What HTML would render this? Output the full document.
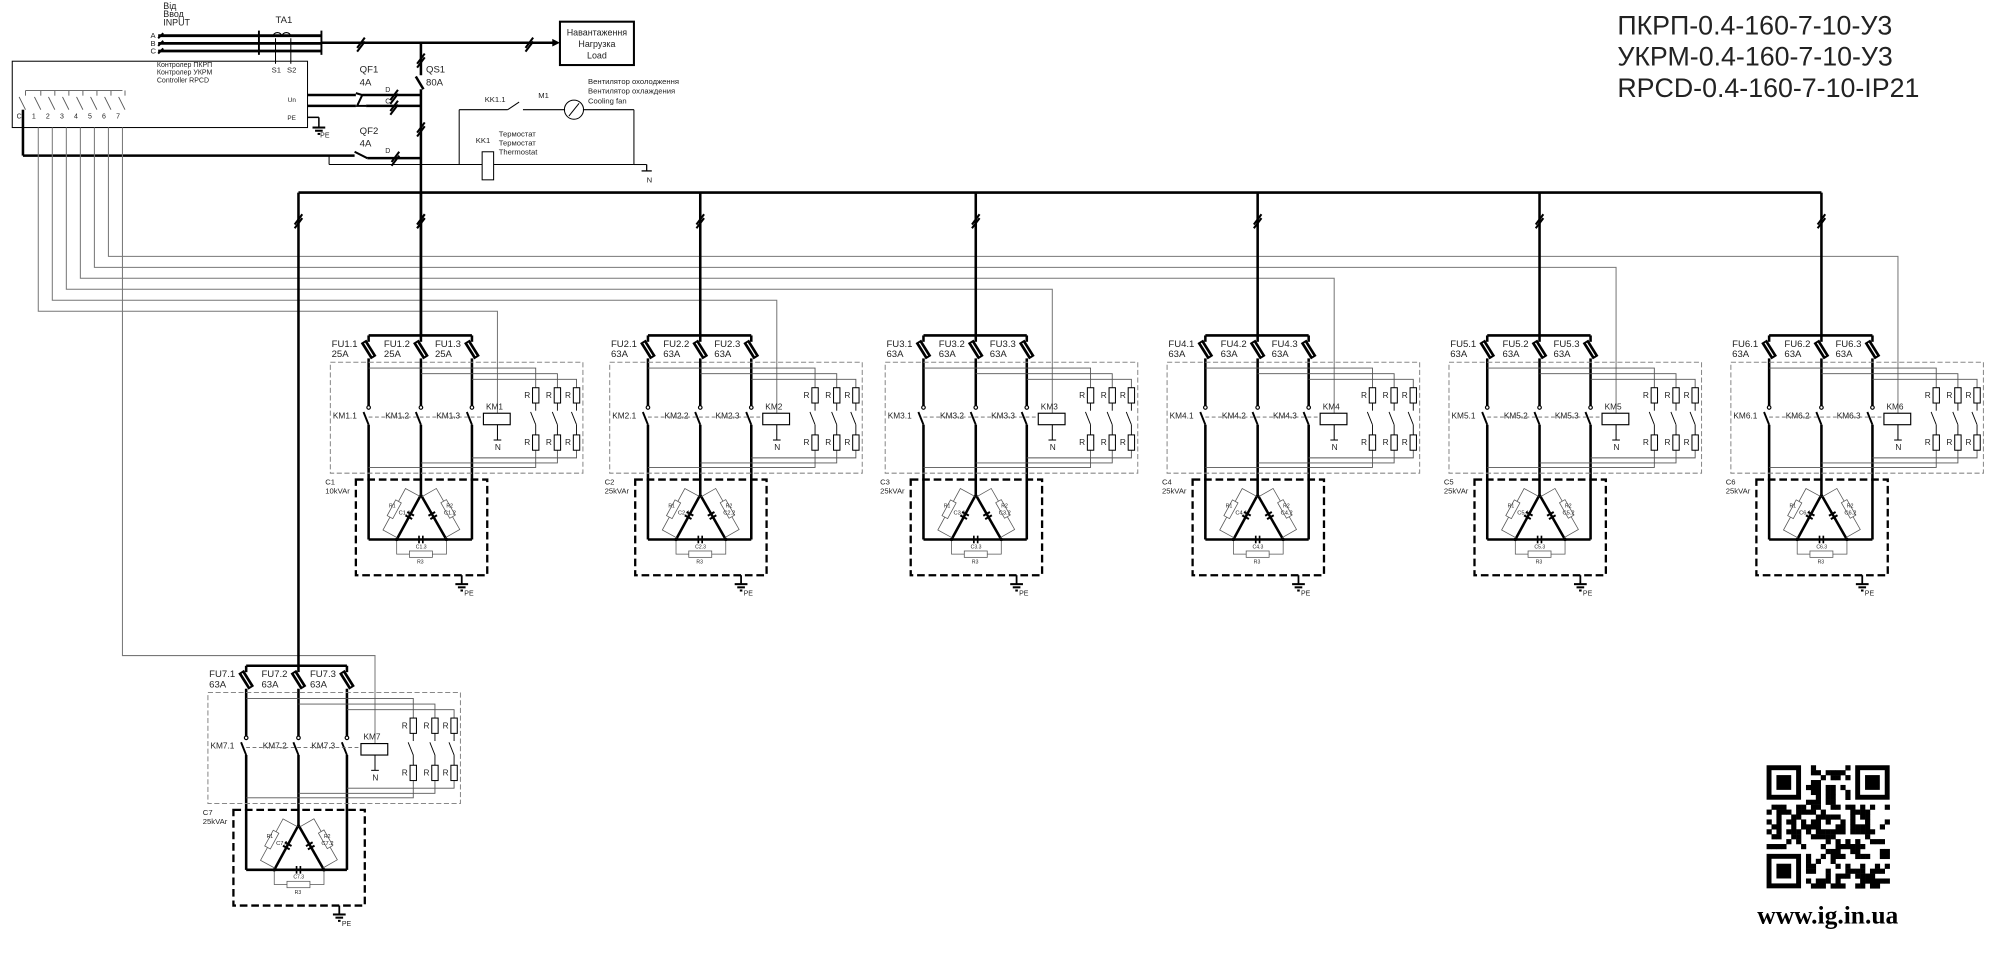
<!DOCTYPE html>
<html><head><meta charset="utf-8"><style>
html,body{margin:0;padding:0;background:#fff;}
svg{display:block;}
text{font-family:"Liberation Sans","DejaVu Sans",sans-serif;fill:#222;}
</style></head><body>
<svg id="s" xmlns="http://www.w3.org/2000/svg" width="2000" height="966" viewBox="0 0 1568 757.4" preserveAspectRatio="none"></svg>
<script>
var o=[];
function L(x1,y1,x2,y2,w,c,d){o.push('<line x1="'+x1+'" y1="'+y1+'" x2="'+x2+'" y2="'+y2+'" stroke="'+(c||'#000')+'" stroke-width="'+(w||1)+'"'+(d?' stroke-dasharray="'+d+'"':'')+'/>');}
function P(pts,w,c){o.push('<polyline points="'+pts+'" fill="none" stroke="'+(c||'#000')+'" stroke-width="'+(w||1)+'"/>');}
function R(x,y,w,h,sw,c,d,f){o.push('<rect x="'+x+'" y="'+y+'" width="'+w+'" height="'+h+'" fill="'+(f||'none')+'" stroke="'+(c||'#000')+'" stroke-width="'+(sw||1)+'"'+(d?' stroke-dasharray="'+d+'"':'')+'/>');}
function T(x,y,s,t,sz,extra){o.push('<text x="'+x+'" y="'+y+'" font-size="'+(sz||7)+'" '+(extra||'')+'>'+t+'</text>');}
function slash(x,y){L(x-3,y+4,x+3,y-4,1.6);L(x-3,y+7,x+3,y-1,1.6);}
function ground(x,y){L(x-5,y,x+5,y,1.6);L(x-3,y+2.5,x+3,y+2.5,1.6);L(x-1,y+5,x+1,y+5,1.6);}
var TK=2;
T(128,7,0,'Від',7);T(128,13.5,0,'Ввод',7);T(128,20,0,'INPUT',7);
[['A',28],['B',34],['C',40]].forEach(function(a){T(118,a[1]+2,0,a[0],6);L(124,a[1],252,a[1],2.2);L(124,a[1]+2,128,a[1]-2,1.5);});
L(203,24,203,43,1.5);L(252,24,252,43,1.5);
T(216,18,0,'TA1',7.5);
o.push('<path d="M214,29 a3.5,3.5 0 0 1 7,0 M221,29 a3.5,3.5 0 0 1 7,0" fill="none" stroke="#000" stroke-width="0.9"/>');
L(216,30,216,50,0.8);L(228,30,228,50,0.8);T(213,57,0,'S1',6);T(225,57,0,'S2',6);
L(252,33.5,437,33.5,TK);slash(283,33.5);slash(415,33.5);
o.push('<polygon points="439,33.5 433,30.5 433,36.5" fill="#000"/>');
R(439,17,58,34,1.6);
T(468,28,0,'Навантаження',7,'text-anchor="middle"');T(468,37,0,'Нагрузка',7,'text-anchor="middle"');T(468,46,0,'Load',7,'text-anchor="middle"');
L(330,33.5,330,59,TK);L(326,60,332,70,TK);L(330,70,330,263,TK);slash(330,46);slash(330,100);slash(330,172);
T(334,57,0,'QS1',7.5);T(334,67,0,'80A',7.5);
R(9.6,48,231.5,52,0.8);
T(123,52.5,0,'Контролер ПКРП',5.5);T(123,58.5,0,'Контролер УКРМ',5.5);T(123,64.5,0,'Controller RPCD',5.5);
var tx=[18,30,41,52,63,74,85,96],tl=['C','1','2','3','4','5','6','7'];
L(20,71,96,71,0.7,'#555');
tx.forEach(function(x,i){L(x+2,71,x+2,75,0.7,'#555');L(x-3,76,x+2,86,0.7,'#555');T(x-5,93,0,tl[i],5.5);});
T(232,80,0,'Un',5,'text-anchor="end"');T(232,94,0,'PE',5,'text-anchor="end"');
L(241,74.5,279,74.5,TK);L(241,83,279,83,TK);
P('279,73 284,74.5 280,83 287,83',1.6);P('284,74.5 330,74.5',TK);L(287,83,330,83,TK);slash(309,74.5);slash(309,83);
T(302,72,0,'D',5.5);T(302,81,0,'C',5.5);
T(282,57,0,'QF1',7.5);T(282,67,0,'4A',7.5);
L(241,92,250,92,1.2);L(250,92,250,100,1.2);ground(250,100);T(251,108,0,'PE',5.5);
L(18,86,18,122,TK);L(18,122,278,122,TK);L(278,119,288,124,1.6);L(288,124,330,124,TK);slash(310,123);
T(302,120,0,'D',5.5);T(282,105,0,'QF2',7.5);T(282,115,0,'4A',7.5);
L(258,122,258,129,0.8);L(258,129,497,129,0.8);L(497,129,507,129,0.8);
L(497,86,497,129,0.8);L(360,86,360,129,0.8);L(360,86,398,86,0.8);L(398,86,407,80,0.8);L(410,86,443,86,0.8);
o.push('<circle cx="450" cy="86" r="7.5" fill="none" stroke="#000" stroke-width="0.8"/>');L(446,91,454,81,0.8);L(457,86,497,86,0.8);
T(422,77,0,'M1',6);T(380,80,0,'KK1.1',6);
T(461,66,0,'Вентилятор охолодження',6);T(461,73.5,0,'Вентилятор охлаждения',6);T(461,81,0,'Cooling fan',6);
R(378,119,9,22,0.8,'#000','','#fff');T(373,112,0,'KK1',6);
T(391,107,0,'Термостат',6);T(391,114,0,'Термостат',6);T(391,121,0,'Thermostat',6);
L(507,129,507,134,1);L(503,134,511,134,1);T(507,143,0,'N',6);
T(1268,27,0,'ПКРП-0.4-160-7-10-У3',21);T(1268,51.5,0,'УКРМ-0.4-160-7-10-У3',21);T(1268,76,0,'RPCD-0.4-160-7-10-IP21',21);
L(234,151,1428,151,TK);
var xs=[330,549,765,986,1207,1428];
for(var i=1;i<=6;i++){var y=244-(i-1)*8.6,cx=xs[i-1]+60;P(tx[i]+',100 '+tx[i]+','+y+' '+cx+','+y+' '+cx+',324',0.8,'#777');}
P('96,100 96,514 294,514 294,583',0.8,'#777');
function sec(x0,dy,n,amp,kv,fo){
 var f=[x0-41,x0,x0+fo],Y=function(v){return v+dy;};
 L(x0,151,x0,Y(263),TK);slash(x0,172);
 L(f[0],Y(263),f[2],Y(263),TK);
 f.forEach(function(fx,k){
  L(fx,Y(263),fx,Y(268),TK);
  o.push('<g transform="translate('+fx+','+Y(274)+') rotate(-32)"><rect x="-2.6" y="-7.5" width="5.2" height="15" fill="#000"/><line x1="0" y1="-6" x2="0" y2="6" stroke="#fff" stroke-width="1"/></g>');
  L(fx,Y(281),fx,Y(319),TK);
  o.push('<circle cx="'+fx+'" cy="'+Y(319.5)+'" r="1.4" fill="#fff" stroke="#000" stroke-width="0.9"/>');
  L(fx-4,Y(323),fx,Y(333),1.5);
  L(fx,Y(333),fx,Y(k==1?388:423),TK);
  T(fx-29,Y(272),0,'FU'+n+'.'+(k+1),7.5);T(fx-29,Y(280),0,amp,7.5);
  T(fx-28,Y(328),0,'KM'+n+'.'+(k+1),6.5);
 });
 R(x0-71,Y(284),198,87,0.8,'#888','4 2');
 L(f[0],Y(327),x0+49,Y(327),0.7,'#666','3 2');
 var col=[x0+90,x0+107,x0+122],ty=[288.6,293,297.4],by=[366.5,363,359];
 for(var k=0;k<3;k++){
  P(f[k]+','+Y(ty[k])+' '+col[k]+','+Y(ty[k])+' '+col[k]+','+Y(304),0.7,'#555');
  P(col[k]+','+Y(353)+' '+col[k]+','+Y(by[k])+' '+f[k]+','+Y(by[k]),0.7,'#555');
  R(col[k]-2.5,Y(304),5,12,0.8);R(col[k]-2.5,Y(341),5,12,0.8);
  L(col[k],Y(316),col[k],Y(322),0.7);L(col[k]-4,Y(323),col[k],Y(333),0.7);L(col[k],Y(333),col[k],Y(341),0.7);
  T(col[k]-9,Y(312),0,'R',6.5);T(col[k]-9,Y(349),0,'R',6.5);
 }
 R(x0+49,Y(324),21,9,0.9,'#000','','#fff');T(x0+51,Y(321),0,'KM'+n,6.5);
 L(x0+60,Y(333),x0+60,Y(345),0.8);L(x0+57,Y(345),x0+63,Y(345),0.8);T(x0+58,Y(353),0,'N',6.5);
 R(x0-51,Y(376),103,75,1.8,'#000','6 3');
 T(x0-75,Y(380),0,'C'+n,6);T(x0-75,Y(387),0,kv,6);
 L(f[0],Y(423),f[2],Y(423),TK);
 var ax=x0,ay=Y(388),bl=[x0-19,Y(423)],br=[x0+20,Y(423)];
 L(ax,ay,bl[0],bl[1],TK);L(ax,ay,br[0],br[1],TK);
 [[bl,-1,'1'],[br,1,'2']].forEach(function(e){
  var mx=(ax+e[0][0])/2,my=(ay+e[0][1])/2,ang=Math.atan2(e[0][1]-ay,e[0][0]-ax)*180/Math.PI;
  var s=e[1];
  o.push('<g transform="translate('+mx+','+my+') rotate('+ang+')">'+
   '<line x1="-3" y1="-3" x2="-3" y2="3" stroke="#000" stroke-width="1.6"/><line x1="0" y1="-3" x2="0" y2="3" stroke="#000" stroke-width="1.6"/>'+
   '<polyline points="-18.5,0 -18.5,'+(13*-s)+' 18.5,'+(13*-s)+' 18.5,0" fill="none" stroke="#555" stroke-width="0.6"/>'+
   '<rect x="-7" y="'+(13*-s-2.5)+'" width="14" height="5" fill="#fff" stroke="#555" stroke-width="0.6"/></g>');
  T(mx+s*8,my-2,0,'C'+n+'.'+e[2],4.5);
 });
 T(ax-25,ay+10,0,'R1',4);T(ax+20,ay+10,0,'R2',4);
 L(x0-1.5,Y(420),x0-1.5,Y(426),1.3);L(x0+1.5,Y(420),x0+1.5,Y(426),1.3);
 P(bl[0]+','+Y(423)+' '+bl[0]+','+Y(434.5)+' '+(x0-9)+','+Y(434.5),0.6,'#555');
 P(br[0]+','+Y(423)+' '+br[0]+','+Y(434.5)+' '+(x0+9)+','+Y(434.5),0.6,'#555');
 R(x0-9,Y(432),18,5,0.6,'#555','','#fff');
 T(x0-4,Y(430),0,'C'+n+'.3',4);T(x0-3,Y(442),0,'R3',4);
 o.push('<circle cx="'+bl[0]+'" cy="'+Y(423)+'" r="1.3"/><circle cx="'+br[0]+'" cy="'+Y(423)+'" r="1.3"/>');
 L(x0+32,Y(451),x0+32,Y(458),1.4);ground(x0+32,Y(458));T(x0+34,Y(467),0,'PE',5.5);
}
for(var i=0;i<6;i++) sec(xs[i],0,i+1,i==0?'25A':'63A',i==0?'10kVAr':'25kVAr',40);
sec(234,259,7,'63A','25kVAr',38);
var q='',seed=7;function rnd(){seed=(seed*1103515245+12345)%2147483648;return seed/2147483648;}
var m=3.86,qx=1385,qy=600,N=25;
function fin(cx,cy){q+='<rect x="'+(qx+cx*m)+'" y="'+(qy+cy*m)+'" width="'+7*m+'" height="'+7*m+'"/><rect x="'+(qx+(cx+1)*m)+'" y="'+(qy+(cy+1)*m)+'" width="'+5*m+'" height="'+5*m+'" fill="#fff"/><rect x="'+(qx+(cx+2)*m)+'" y="'+(qy+(cy+2)*m)+'" width="'+3*m+'" height="'+3*m+'"/>';}
for(var r=0;r<N;r++)for(var c=0;c<N;c++){
 if((r<8&&c<8)||(r<8&&c>=N-8)||(r>=N-8&&c<8))continue;
 if(rnd()<0.5)q+='<rect x="'+(qx+c*m)+'" y="'+(qy+r*m)+'" width="'+(m+0.2)+'" height="'+(m+0.2)+'"/>';}
fin(0,0);fin(N-7,0);fin(0,N-7);
o.push('<g fill="#000">'+q+'</g>');
o.push('<text x="1433" y="724" font-size="20" font-weight="bold" text-anchor="middle" style="font-family:\'Liberation Serif\',serif;fill:#000">www.ig.in.ua</text>');
document.getElementById('s').innerHTML=o.join('');
</script>
</body></html>
